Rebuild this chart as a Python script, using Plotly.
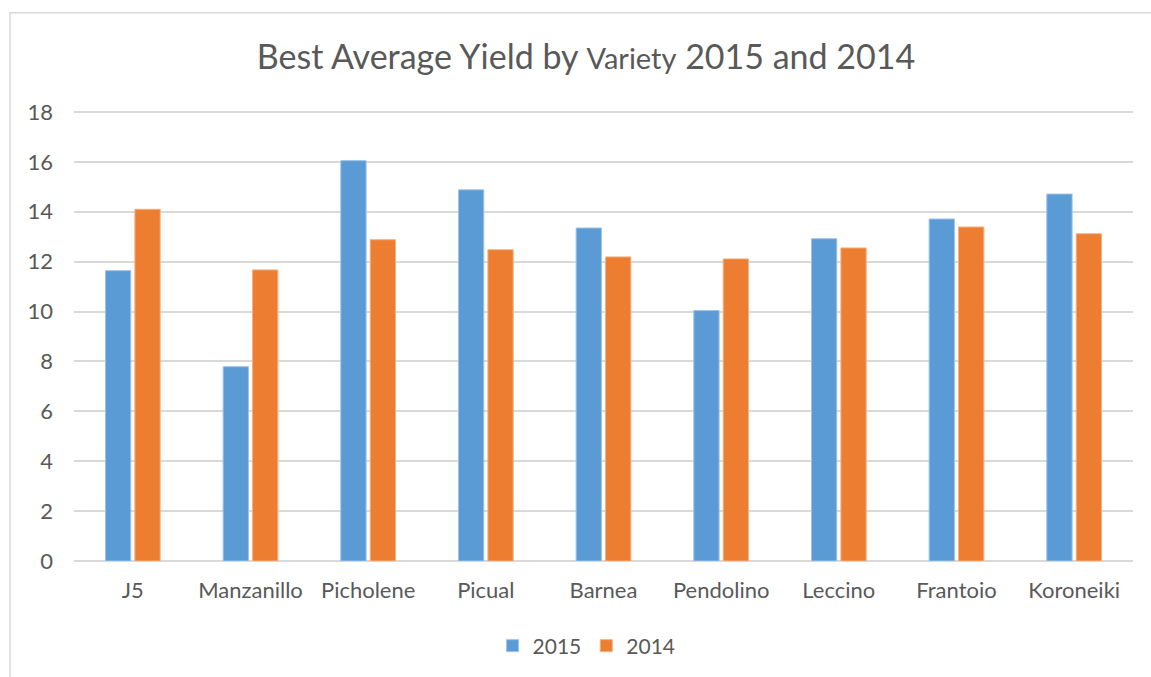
import plotly.graph_objects as go

categories = ["J5", "Manzanillo", "Picholene", "Picual", "Barnea", "Pendolino", "Leccino", "Frantoio", "Koroneiki"]
values_2015 = [11.64, 7.79, 16.05, 14.88, 13.35, 10.04, 12.92, 13.71, 14.71]
values_2014 = [14.10, 11.67, 12.88, 12.48, 12.19, 12.11, 12.55, 13.39, 13.12]
y_ticks = [0, 2, 4, 6, 8, 10, 12, 14, 16, 18]

FONT = "Lato, 'Open Sans', sans-serif"
TXT = "#595959"

fig = go.Figure()
fig.add_trace(go.Bar(name="2015", x=categories, y=values_2015,
                     marker=dict(color="#5B9BD5", line=dict(color="#9DC3E6", width=1))))
fig.add_trace(go.Bar(name="2014", x=categories, y=values_2014,
                     marker=dict(color="#ED7D31", line=dict(color="#F4B183", width=1))))

fig.update_layout(
    width=1151, height=677,
    margin=dict(l=74, r=18, t=107, b=115),
    paper_bgcolor="white", plot_bgcolor="white",
    barmode="group", bargap=0.5, bargroupgap=0.14,
    font=dict(family=FONT, color=TXT, size=22),
    title=dict(text="Best Average Yield by <span style='font-size:29px'>Variety</span> 2015 and 2014",
               x=(586 - 74) / 1059, xanchor="center", xref="paper", y=1 - 57 / 677, yref="container",
               yanchor="middle", font=dict(size=34, color=TXT, family=FONT)),
    legend=dict(orientation="h", x=0.484, xanchor="center", y=(562 - 646) / 455, yanchor="middle",
                font=dict(size=21, color=TXT), itemwidth=30, traceorder="normal"),
    showlegend=True,
)
fig.update_yaxes(range=[0, 18.2], tickvals=y_ticks, showgrid=True, gridcolor="#D9D9D9", gridwidth=1.5,
                 zeroline=True, zerolinecolor="#D9D9D9", zerolinewidth=1.5, showline=False,
                 ticklabelstandoff=20, tickfont=dict(size=22, color=TXT), fixedrange=True)
fig.update_xaxes(showgrid=False, showline=False, ticklabelstandoff=14,
                 tickfont=dict(size=22, color=TXT))

fig.add_shape(type="rect", xref="paper", yref="paper",
              x0=(10 - 74) / 1059, x1=(1180 - 74) / 1059,
              y0=(562 - 700) / 455, y1=(562 - 12.5) / 455,
              line=dict(color="#D9D9D9", width=1.5), fillcolor="rgba(0,0,0,0)", layer="below")

fig.write_html("out.html", config={"displayModeBar": False},
               post_script="document.body.style.margin='0';")
